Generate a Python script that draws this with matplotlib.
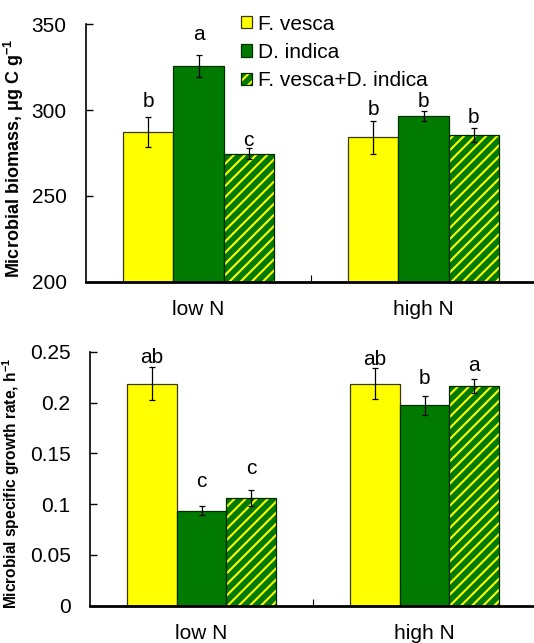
import matplotlib
matplotlib.use("Agg")
import matplotlib.pyplot as plt
import numpy as np
from matplotlib.patches import Patch
from matplotlib.legend_handler import HandlerTuple

plt.rcParams['font.family'] = ['Liberation Sans', 'DejaVu Sans']
plt.rcParams['mathtext.fontset'] = 'custom'
plt.rcParams['mathtext.rm'] = 'Liberation Sans'
plt.rcParams['mathtext.bf'] = 'Liberation Sans:bold'
plt.rcParams['hatch.linewidth'] = 1.5

categories = ['low N', 'high N']
series = ['F. vesca', 'D. indica', 'F. vesca+D. indica']

biomass = {
    'F. vesca': [287.4, 284.1],
    'D. indica': [325.9, 296.6],
    'F. vesca+D. indica': [274.6, 285.3],
}
biomass_err = {
    'F. vesca': [8.8, 9.7],
    'D. indica': [6.4, 2.9],
    'F. vesca+D. indica': [3.1, 4.1],
}
biomass_letters = {
    'F. vesca': ['b', 'b'],
    'D. indica': ['a', 'b'],
    'F. vesca+D. indica': ['c', 'b'],
}
# baseline heights of the significance letters (data units)
biomass_letter_y = {
    'F. vesca': [301.6, 297.1],
    'D. indica': [341.0, 301.6],
    'F. vesca+D. indica': [279.0, 292.5],
}

growth = {
    'F. vesca': [0.2185, 0.2185],
    'D. indica': [0.0935, 0.1972],
    'F. vesca+D. indica': [0.1063, 0.2162],
}
growth_err = {
    'F. vesca': [0.016, 0.015],
    'D. indica': [0.0047, 0.0093],
    'F. vesca+D. indica': [0.008, 0.0072],
}
growth_letters = {
    'F. vesca': ['ab', 'ab'],
    'D. indica': ['c', 'b'],
    'F. vesca+D. indica': ['c', 'a'],
}
growth_letter_y = {
    'F. vesca': [0.2392, 0.2369],
    'D. indica': [0.1165, 0.2182],
    'F. vesca+D. indica': [0.1293, 0.2310],
}

biomass_ticks = [200, 250, 300, 350]
growth_ticks = [0, 0.05, 0.1, 0.15, 0.2, 0.25]
growth_ticklabels = ['0', '0.05', '0.1', '0.15', '0.2', '0.25']

YELLOW = '#ffff00'
GREEN = '#007a00'
FS = 15

W, H = 534, 643
fig = plt.figure(figsize=(W / 100, H / 100), dpi=100)

ax1 = fig.add_axes([86 / W, 1 - 281.7 / H, (536 - 86) / W, (281.7 - 24.3) / H])
ax2 = fig.add_axes([90 / W, 1 - 605.7 / H, (536 - 90) / W, (605.7 - 351.7) / H])

bw = 0.2226
x = np.arange(len(categories))


def draw(ax, data, err, letters, letter_y, ylim, ticks, ticklabels, ylabel, ylabel_fs, ylabel_xy):
    base = ylim[0]
    for i, s in enumerate(series):
        pos = x + (i - 1) * bw
        vals = np.array(data[s])
        heights = vals - base
        if i == 0:
            ax.bar(pos, heights, bw, bottom=base, color=YELLOW, edgecolor='#3a3a00', linewidth=0.9, zorder=2)
        elif i == 1:
            ax.bar(pos, heights, bw, bottom=base, color=GREEN, edgecolor='#003000', linewidth=0.9, zorder=2)
        else:
            ax.bar(pos, heights, bw, bottom=base, color=GREEN, edgecolor=YELLOW, hatch='///', linewidth=0, zorder=2)
            ax.bar(pos, heights, bw, bottom=base, color='none', edgecolor='#002800', linewidth=0.9, zorder=3)
        ax.errorbar(pos, vals, yerr=err[s], fmt='none', ecolor='black', elinewidth=0.9, capsize=2.5, capthick=0.9, zorder=4)
        for p, ly, lab in zip(pos, letter_y[s], letters[s]):
            ax.text(p, ly, lab, ha='center', va='baseline', fontsize=FS)
    ax.set_xlim(-0.5, 1.5)
    ax.set_ylim(*ylim)
    ax.set_yticks(ticks)
    ax.set_yticklabels(ticklabels, fontsize=FS)
    ax.set_xticks(x)
    ax.set_xticklabels(categories, fontsize=FS)
    ax.set_xticks([0.5], minor=True)
    ax.tick_params(axis='x', which='major', length=0, pad=13)
    ax.tick_params(axis='x', which='minor', direction='in', length=5, width=0.8)
    ax.tick_params(axis='y', direction='in', length=5, width=1.0, pad=14)
    for sp in ['top', 'right']:
        ax.spines[sp].set_visible(False)
    ax.spines['left'].set_linewidth(1.2)
    ax.spines['bottom'].set_linewidth(2.0)
    ax.spines['bottom'].set_zorder(5)
    ax.set_ylabel(ylabel, fontsize=ylabel_fs, fontweight='bold')
    ax.yaxis.set_label_coords(*ylabel_xy)


draw(ax1, biomass, biomass_err, biomass_letters, biomass_letter_y, (200, 350), biomass_ticks,
     [str(t) for t in biomass_ticks], 'Microbial biomass, μg C g$^{\\mathbf{-1}}$', 13,
     ((26 - 86) / 450, (281.7 - 158) / 257.4))
draw(ax2, growth, growth_err, growth_letters, growth_letter_y, (0, 0.25), growth_ticks,
     growth_ticklabels, 'Microbial specific growth rate, h$^{\\mathbf{-1}}$', 11.2,
     ((22 - 90) / 446, (605.7 - 483.5) / 254))

h1 = Patch(facecolor=YELLOW, edgecolor='#3a3a00', linewidth=0.9)
h2 = Patch(facecolor=GREEN, edgecolor='#003000', linewidth=0.9)
h3a = Patch(facecolor=GREEN, edgecolor=YELLOW, hatch='///', linewidth=0)
h3b = Patch(facecolor='none', edgecolor='#002800', linewidth=0.9)
fig.legend([h1, h2, (h3a, h3b)], series, handler_map={tuple: HandlerTuple(ndivide=1, pad=0)},
           loc='upper left', bbox_to_anchor=(226 / W, 1 - 0 / H), frameon=False, fontsize=FS,
           handlelength=0.55, handleheight=0.55, handletextpad=0.3, labelspacing=0.45, borderpad=0.2)

fig.savefig('out.png', dpi=100)
